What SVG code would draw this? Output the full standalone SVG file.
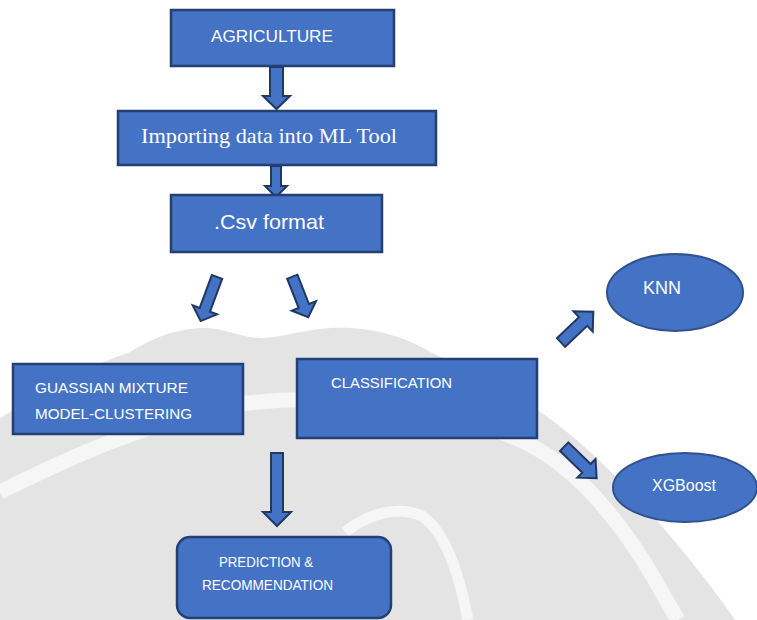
<svg xmlns="http://www.w3.org/2000/svg" width="757" height="620" viewBox="0 0 757 620">
  <style>
    .box { fill: #4472c4; stroke: #233f73; stroke-width: 2.5; }
    .ell { fill: #4472c4; stroke: #2f528f; stroke-width: 2; }
    .arr { fill: #4472c4; stroke: #203864; stroke-width: 2; stroke-linejoin: miter; }
    .t { fill: #ffffff; font-family: "Liberation Sans", Arial, sans-serif; }
    .s { fill: #ffffff; font-family: "Liberation Serif", "Times New Roman", serif; }
  </style>
  <rect x="0" y="0" width="757" height="620" fill="#ffffff"/>
  <g id="watermark">
    <path d="M0,418 C40,395 90,365 130,352 C150,340 170,330 200,328 C225,327 240,338 262,338 C285,338 310,326 350,328 C385,330 410,340 430,352 C470,370 510,392 545,415 C600,455 650,510 690,560 C710,585 725,605 735,620 L0,620 Z" fill="#e4e4e4"/>
    <path d="M0,492 C60,462 150,420 240,404 C330,392 440,405 520,440 C575,465 620,520 655,580 C665,598 672,610 678,620" fill="none" stroke="#f6f6f6" stroke-width="15"/>
    <path d="M345,532 C370,512 400,506 422,516 C446,532 460,578 468,620" fill="none" stroke="#f6f6f6" stroke-width="11"/>
  </g>
  <g id="connectors">
    <polygon class="arr" points="270,67 283,67 283,96 290,96 276.5,109 263,96 270,96"/>
    <polygon class="arr" points="271,166 281,166 281,186 287,186 276,197 265,186 271,186"/>
    <polygon class="arr" transform="translate(217,277) rotate(110.3)" points="0,-5.5 35,-5.5 35,-13 47,0 35,13 35,5.5 0,5.5"/>
    <polygon class="arr" transform="translate(292.3,276.7) rotate(68.5)" points="0,-5.5 31.5,-5.5 31.5,-13 43.6,0 31.5,13 31.5,5.5 0,5.5"/>
    <polygon class="arr" points="271,453 283,453 283,512 291,512 277,526 263,512 271,512"/>
    <polygon class="arr" transform="translate(561,342.5) rotate(-43.6)" points="0,-6 30.5,-6 30.5,-14 44.6,0 30.5,14 30.5,6 0,6"/>
    <polygon class="arr" transform="translate(564.2,446.7) rotate(44.2)" points="0,-6 31,-6 31,-13 45.3,0 31,13 31,6 0,6"/>
  </g>
  <g id="agriculture">
    <rect class="box" x="171" y="10" width="223" height="56"/>
    <text class="t" x="211" y="42" font-size="17" textLength="122" lengthAdjust="spacingAndGlyphs">AGRICULTURE</text>
  </g>
  <g id="importing">
    <rect class="box" x="118" y="111" width="318" height="54"/>
    <text class="s" x="141" y="143" font-size="22" textLength="256" lengthAdjust="spacingAndGlyphs">Importing data into ML Tool</text>
  </g>
  <g id="csv">
    <rect class="box" x="171" y="195" width="211" height="57"/>
    <text class="t" x="214" y="229" font-size="21" textLength="110" lengthAdjust="spacingAndGlyphs">.Csv format</text>
  </g>
  <g id="gmm">
    <rect class="box" x="13" y="364" width="230" height="70"/>
    <text class="t" x="35" y="393" font-size="15.5" textLength="153" lengthAdjust="spacingAndGlyphs">GUASSIAN MIXTURE</text>
    <text class="t" x="35" y="419" font-size="15.5" textLength="157" lengthAdjust="spacingAndGlyphs">MODEL-CLUSTERING</text>
  </g>
  <g id="classification">
    <rect class="box" x="297" y="359" width="240" height="79"/>
    <text class="t" x="331" y="388" font-size="15.5" textLength="121" lengthAdjust="spacingAndGlyphs">CLASSIFICATION</text>
  </g>
  <g id="prediction">
    <rect class="box" x="177" y="537" width="214" height="81" rx="13" ry="13"/>
    <text class="t" x="219" y="567" font-size="14" textLength="94" lengthAdjust="spacingAndGlyphs">PREDICTION &amp;</text>
    <text class="t" x="202" y="590" font-size="14" textLength="131" lengthAdjust="spacingAndGlyphs">RECOMMENDATION</text>
  </g>
  <g id="knn">
    <ellipse class="ell" cx="675" cy="292.5" rx="68" ry="38.5"/>
    <text class="t" x="643" y="294" font-size="18" textLength="38" lengthAdjust="spacingAndGlyphs">KNN</text>
  </g>
  <g id="xgboost">
    <ellipse class="ell" cx="685" cy="487.5" rx="72" ry="34.5"/>
    <text class="t" x="652" y="491" font-size="17" textLength="64" lengthAdjust="spacingAndGlyphs">XGBoost</text>
  </g>
</svg>
